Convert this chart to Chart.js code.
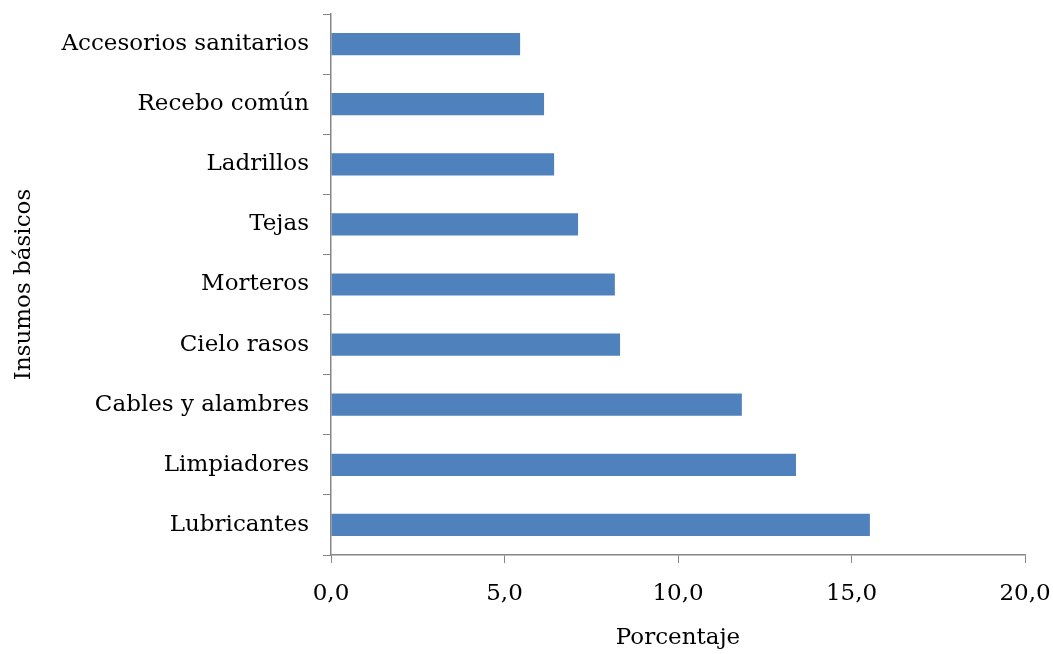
<!DOCTYPE html>
<html><head><meta charset="utf-8">
<script src="https://cdn.jsdelivr.net/npm/chart.js@4"></script>
<style>html,body{margin:0;padding:0;background:#fff}#w{width:1053px;height:654px}</style>
</head><body><div id="w"><canvas id="c"></canvas></div>
<script>
const categories = ["Accesorios sanitarios","Recebo común","Ladrillos","Tejas","Morteros","Cielo rasos","Cables y alambres","Limpiadores","Lubricantes"];
const values = [5.45, 6.14, 6.43, 7.12, 8.18, 8.33, 11.84, 13.40, 15.53];
const xTicks = [0, 5, 10, 15, 20];
const xTitle = "Porcentaje";
const yTitle = "Insumos básicos";

const FONT = "'DejaVu Serif', serif";
const FS = 23;
const axisColor = "#868686";
new Chart(document.getElementById('c'), {
  type: 'bar',
  data: { labels: categories, datasets: [{ data: values, backgroundColor: '#4F81BD', borderWidth: 0, barPercentage: 0.37, categoryPercentage: 1 }] },
  options: {
    indexAxis: 'y', responsive: true, maintainAspectRatio: false, animation: false,
    devicePixelRatio: 1,
    layout: { padding: { left: 10, top: 14, right: 0, bottom: 0 } },
    plugins: { legend: { display: false }, tooltip: { enabled: false } },
    scales: {
      x: {
        min: 0, max: 20,
        afterBuildTicks: s => { s.ticks = xTicks.map(v => ({ value: v })); },
        afterFit: s => { s.height = 99; s.paddingRight = 28; s.paddingLeft = 0; },
        grid: { drawOnChartArea: false, color: axisColor, tickLength: 8 },
        border: { color: axisColor, width: 1.5 },
        ticks: { color: '#000', padding: 17, font: { family: FONT, size: FS }, callback: v => v.toFixed(1).replace('.', ',') },
        title: { display: true, text: xTitle, color: '#000', font: { family: FONT, size: FS }, padding: { top: 0, bottom: 2 } }
      },
      y: {
        afterFit: s => { s.width = 321; s.paddingTop = 0; s.paddingBottom = 0; },
        grid: { drawOnChartArea: false, color: axisColor, tickLength: 8, offset: true },
        border: { color: axisColor, width: 1.5 },
        ticks: { color: '#000', padding: 14, font: { family: FONT, size: FS } },
        title: { display: true, text: yTitle, color: '#000', font: { family: FONT, size: FS }, padding: 0 }
      }
    }
  }
});
</script></body></html>
